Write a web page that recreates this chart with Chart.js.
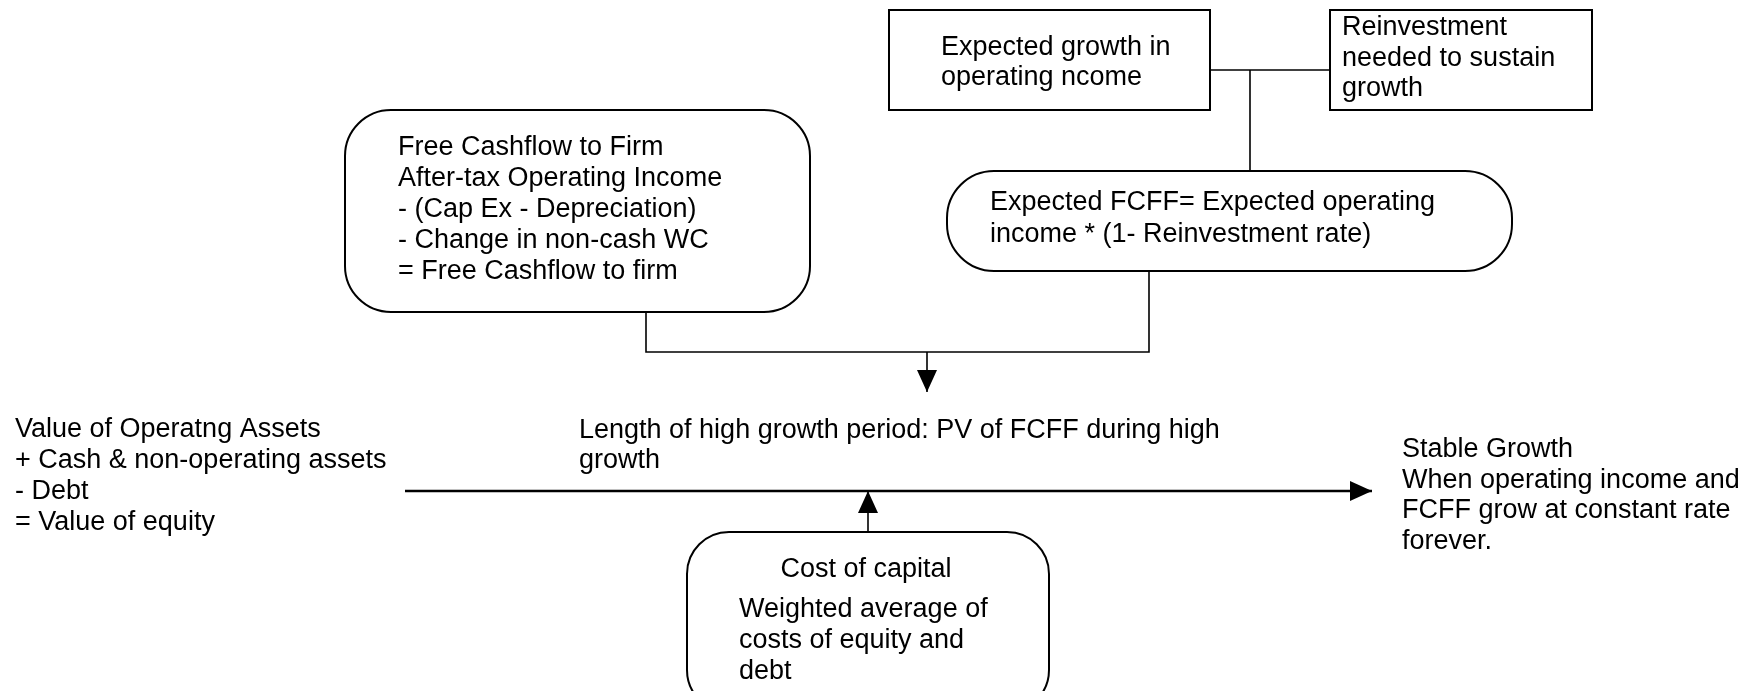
<!DOCTYPE html>
<html>
<head>
<meta charset="utf-8">
<script src="https://cdn.jsdelivr.net/npm/chart.js@4/dist/chart.umd.min.js"></script>
<style>
html,body{margin:0;padding:0;background:#fff;overflow:hidden}
#wrap{width:1758px;height:691px;position:relative}
</style>
</head>
<body>
<div id="wrap"><canvas id="c" width="1758" height="691"></canvas></div>
<script>
// ---- Text content ----
const growthText   = ["Expected growth in", "operating ncome"];
const reinvestText = ["Reinvestment", "needed to sustain", "growth"];
const fcffExpText  = ["Expected FCFF= Expected operating", "income * (1- Reinvestment rate)"];
const fcffText     = ["Free Cashflow to Firm", "After-tax Operating Income", "- (Cap Ex - Depreciation)", "- Change in non-cash WC", "= Free Cashflow to firm"];
const highGrowthText = ["Length of high growth period: PV of FCFF during high", "growth"];
const equityText   = ["Value of Operatng Assets", "+ Cash & non-operating assets", "- Debt", "= Value of equity"];
const stableText   = ["Stable Growth", "When operating income and", "FCFF grow at constant rate", "forever."];
const costTitle    = ["Cost of capital"];
const costText     = ["Weighted average of", "costs of equity and", "debt"];

// ---- Diagram geometry (in diagram units on linear x/y scales) ----
const boxGrowth   = [889, 10, 1210, 110, 0];
const boxReinvest = [1330, 10, 1592, 110, 0];
const boxFcffExp  = [947, 171, 1512, 271, 47];
const boxFcff     = [345, 110, 810, 312, 46];
const boxCost     = [687, 532, 1049, 712, 42];
const boxes = [boxGrowth, boxReinvest, boxFcffExp, boxFcff, boxCost];

const linkTop     = [[1210, 70], [1330, 70]];
const linkDown    = [[1250, 70], [1250, 171]];
const linkJoin    = [[646, 312], [646, 352], [1149, 352], [1149, 271]];
const arrowDown   = [[927, 352], [927, 392]];
const mainArrow   = [[405, 491], [1372, 491]];
const arrowUp     = [[868, 532], [868, 491]];

// text blocks: lines, x anchor, first baseline, line step, alignment
const textBlocks = [
  {lines: growthText,     x: 941,  y: 55,  step: 30, align: 'left'},
  {lines: reinvestText,   x: 1342, y: 35,  step: 30.5, align: 'left'},
  {lines: fcffExpText,    x: 990,  y: 210, step: 32, align: 'left'},
  {lines: fcffText,       x: 398,  y: 155, step: 30.9, align: 'left'},
  {lines: highGrowthText, x: 579,  y: 438, step: 30, align: 'left'},
  {lines: equityText,     x: 15,   y: 437, step: 31, align: 'left'},
  {lines: stableText,     x: 1402, y: 457, step: 30.5, align: 'left'},
  {lines: costTitle,      x: 866,  y: 577, step: 31, align: 'center'},
  {lines: costText,       x: 739,  y: 617, step: 31, align: 'left'}
];

const toPts = arr => arr.map(p => ({x: p[0], y: p[1]}));
function lineSet(arr, width, arrow) {
  return {
    data: toPts(arr), showLine: true, borderColor: '#000', backgroundColor: '#000',
    borderWidth: width, pointRadius: 0, pointHoverRadius: 0, fill: false,
    tension: 0, arrow: arrow
  };
}

const diagramPlugin = {
  id: 'diagram',
  beforeDatasetsDraw(chart) {
    const ctx = chart.ctx, sx = chart.scales.x, sy = chart.scales.y;
    ctx.save();
    ctx.strokeStyle = '#000';
    ctx.lineWidth = 2;
    boxes.forEach(b => {
      const x0 = sx.getPixelForValue(b[0]), y0 = sy.getPixelForValue(b[1]);
      const x1 = sx.getPixelForValue(b[2]), y1 = sy.getPixelForValue(b[3]);
      const r = b[4];
      ctx.beginPath();
      if (r > 0) {
        ctx.moveTo(x0 + r, y0);
        ctx.arcTo(x1, y0, x1, y1, r);
        ctx.arcTo(x1, y1, x0, y1, r);
        ctx.arcTo(x0, y1, x0, y0, r);
        ctx.arcTo(x0, y0, x1, y0, r);
        ctx.closePath();
      } else {
        ctx.rect(x0, y0, x1 - x0, y1 - y0);
      }
      ctx.fillStyle = '#fff';
      ctx.fill();
      ctx.stroke();
    });
    ctx.restore();
  },
  afterDatasetsDraw(chart) {
    const ctx = chart.ctx, sx = chart.scales.x, sy = chart.scales.y;
    ctx.save();
    // arrowheads
    chart.data.datasets.forEach(ds => {
      if (!ds.arrow) return;
      const n = ds.data.length;
      const a = ds.data[n - 2], b = ds.data[n - 1];
      const ax = sx.getPixelForValue(a.x), ay = sy.getPixelForValue(a.y);
      const bx = sx.getPixelForValue(b.x), by = sy.getPixelForValue(b.y);
      const ang = Math.atan2(by - ay, bx - ax);
      const len = 22, hw = 10;
      ctx.beginPath();
      ctx.moveTo(bx, by);
      ctx.lineTo(bx - len * Math.cos(ang) + hw * Math.sin(ang), by - len * Math.sin(ang) - hw * Math.cos(ang));
      ctx.lineTo(bx - len * Math.cos(ang) - hw * Math.sin(ang), by - len * Math.sin(ang) + hw * Math.cos(ang));
      ctx.closePath();
      ctx.fillStyle = '#000';
      ctx.fill();
    });
    // text
    ctx.fillStyle = '#000';
    ctx.font = '27px "Liberation Sans", Arial, Helvetica, sans-serif';
    ctx.textBaseline = 'alphabetic';
    textBlocks.forEach(t => {
      ctx.textAlign = t.align;
      t.lines.forEach((ln, i) => {
        ctx.fillText(ln, sx.getPixelForValue(t.x), sy.getPixelForValue(t.y + i * t.step));
      });
    });
    ctx.restore();
  }
};

new Chart(document.getElementById('c'), {
  type: 'scatter',
  data: {
    datasets: [
      lineSet(linkTop, 1.6, false),
      lineSet(linkDown, 1.6, false),
      lineSet(linkJoin, 1.6, false),
      lineSet(arrowDown, 1.6, true),
      lineSet(mainArrow, 2.4, true),
      lineSet(arrowUp, 1.6, true)
    ]
  },
  options: {
    responsive: false,
    animation: false,
    events: [],
    layout: {padding: 0},
    scales: {
      x: {type: 'linear', min: 0, max: 1758, display: false},
      y: {type: 'linear', min: 0, max: 691, reverse: true, display: false}
    },
    plugins: {legend: {display: false}, tooltip: {enabled: false}, title: {display: false}}
  },
  plugins: [diagramPlugin]
});
</script>
</body>
</html>
